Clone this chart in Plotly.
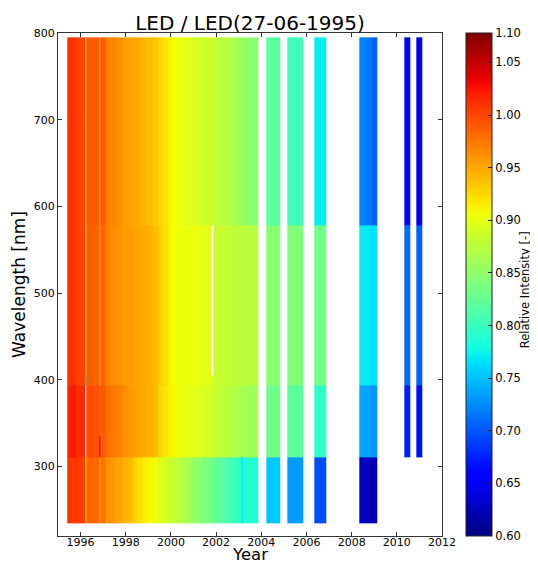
import numpy as np
import plotly.graph_objects as go

# ---- data -------------------------------------------------------------
# wavelength band edges [nm]
band_edges = [235, 311, 335, 394, 405, 578, 795]

# dense early measurements: column edges (years)
dense_edges = [1995.41, 1995.60, 1995.75, 1995.89, 1996.22, 1996.26, 1996.55, 1996.83,
               1996.87, 1997.08, 1997.30, 1997.55, 1997.85, 1998.10, 1998.35, 1998.55,
               1998.72, 1998.95, 1999.20, 1999.45, 1999.65, 1999.88, 2000.10, 2000.35,
               2000.60, 2000.90, 2001.15, 2001.40, 2001.80, 2001.86, 2002.10, 2002.40,
               2002.70, 2002.93, 2003.10, 2003.20, 2003.60, 2003.85]

# relative intensity per band (235-311, 311-394, 394-578, 578-795 nm)
dense_uv = [1.010, 1.006, 1.008, 1.003, 0.912, 0.985, 0.982, 0.940, 0.978, 0.962,
            0.958, 0.952, 0.946, 0.940, 0.926, 0.922, 0.915, 0.910, 0.905, 0.897,
            0.892, 0.882, 0.878, 0.870, 0.865, 0.852, 0.848, 0.838, 0.832, 0.824,
            0.818, 0.808, 0.800, 0.792, 0.772, 0.788, 0.785]
dense_b2 = [1.018, 1.025, 1.014, 1.012, None, 0.997, 0.993, 0.985, 0.990, 0.978,
            0.974, 0.970, 0.963, 0.958, 0.955, 0.950, 0.947, 0.944, 0.940, 0.925,
            0.918, 0.912, 0.908, 0.904, 0.900, 0.897, 0.895, 0.892, 0.888, 0.884,
            0.878, 0.874, 0.870, 0.866, 0.864, 0.862, 0.860]
dense_b3 = [1.012, 1.009, 1.006, 1.001, 0.848, 0.988, 0.986, 0.935, 0.985, 0.968,
            0.963, 0.960, 0.957, 0.955, 0.952, 0.950, 0.948, 0.944, 0.940, 0.928,
            0.922, 0.910, 0.906, 0.905, 0.904, 0.903, 0.902, 0.900, 0.886, 0.884,
            0.882, 0.880, 0.879, 0.878, 0.877, 0.876, 0.875]
dense_b4 = [1.012, 1.009, 1.006, 1.001, 0.848, 0.991, 0.990, 0.935, 0.990, 0.970,
            0.967, 0.963, 0.955, 0.952, 0.949, 0.946, 0.942, 0.939, 0.935, 0.925,
            0.920, 0.910, 0.905, 0.902, 0.898, 0.893, 0.890, 0.886, 0.884, 0.880,
            0.876, 0.872, 0.866, 0.858, 0.855, 0.850, 0.846]

# later campaigns
late_start = [2004.21, 2005.16, 2006.33, 2008.35, 2008.60, 2008.85, 2010.34, 2010.84]
late_end   = [2004.85, 2005.85, 2006.86, 2008.60, 2008.85, 2009.12, 2010.60, 2011.12]
late_uv = [0.754, 0.733, 0.695, 0.627, 0.625, 0.623, None, None]
late_b2 = [0.832, 0.820, 0.794, 0.738, 0.735, 0.730, 0.674, 0.666]
late_b3 = [0.846, 0.842, 0.832, 0.770, 0.768, 0.765, 0.711, 0.704]
late_b4 = [0.820, 0.804, 0.771, 0.720, 0.716, 0.705, 0.655, 0.655]

# single-cell anomalies: (column start year, band row, value)
special = [(1996.22, 3, 0.77), (1996.83, 1, 1.05), (2001.80, 4, None)]

# colour-bar labels
cbar_vals = [0.60, 0.65, 0.70, 0.75, 0.80, 0.85, 0.90, 0.95, 1.00, 1.05, 1.078]
cbar_text = ["0.60", "0.65", "0.70", "0.75", "0.80", "0.85", "0.90", "0.95", "1.00", "1.05", "1.10"]

# ---- build grid -------------------------------------------------------
edges = list(dense_edges)
cols = []
for i in range(len(dense_edges) - 1):
    cols.append([dense_uv[i], dense_b2[i], dense_b2[i], dense_b3[i], dense_b3[i], dense_b4[i]])
for s, e, a, b, c, d in zip(late_start, late_end, late_uv, late_b2, late_b3, late_b4):
    if s > edges[-1] + 1e-9:
        cols.append([None] * 6)
        edges.append(s)
    cols.append([a, b, b, c, c, d])
    edges.append(e)
for yr, row, val in special:
    idx = min(range(len(edges) - 1), key=lambda k: abs(edges[k] - yr))
    cols[idx][row] = val
z = [[cols[c][r] for c in range(len(cols))] for r in range(len(band_edges) - 1)]

# matplotlib 'jet'
def jet(t):
    r = np.interp(t, [0, 0.35, 0.66, 0.89, 1], [0, 0, 1, 1, 0.5])
    g = np.interp(t, [0, 0.125, 0.375, 0.64, 0.91, 1], [0, 0, 1, 1, 0, 0])
    b = np.interp(t, [0, 0.11, 0.34, 0.65, 1], [0.5, 1, 1, 0, 0])
    return "rgb(%d,%d,%d)" % (round(r * 255), round(g * 255), round(b * 255))

ts = np.linspace(0, 1, 101)
jet_scale = [[float(t), jet(t)] for t in ts]

zmin, zmax = 0.6, 1.078
font = "DejaVu Sans"

# the page body has an 8px default margin: the figure starts at (8, 8)
OFF = 8
W, H = 538 - OFF, 565 - OFF
PL, PR, PT, PB = 58, 448, 33, 536          # plot area in window pixels
PW, PH = PR - PL, PB - PT

fig = go.Figure(go.Heatmap(
    x=edges, y=band_edges, z=z,
    colorscale=jet_scale, zmin=zmin, zmax=zmax,
    hoverongaps=False,
    colorbar=dict(
        x=(472 - PL) / PW, xanchor="left", xpad=0, ypad=0,
        y=0.5, yanchor="middle", len=1, lenmode="fraction",
        thickness=26, thicknessmode="pixels",
        outlinewidth=1, outlinecolor="#222",
        ticks="inside", ticklen=4, tickcolor="#222",
        tickvals=cbar_vals, ticktext=cbar_text,
        tickfont=dict(family=font, size=11.5, color="black"),
    ),
))

axis_common = dict(showline=True, linecolor="#333", linewidth=1, mirror="ticks",
                   ticks="inside", ticklen=4, tickcolor="#333", showgrid=False,
                   zeroline=False, automargin=False,
                   tickfont=dict(family=font, size=11, color="black"))

fig.update_xaxes(range=[1995, 2012], tickvals=list(range(1996, 2013, 2)),
                 ticklabelstandoff=-4, **axis_common)
fig.update_yaxes(range=[220, 800], tickvals=list(range(300, 801, 100)),
                 title=dict(text="Wavelength [nm]", font=dict(family=font, size=17, color="black"), standoff=3),
                 **axis_common)

# x-axis title
fig.add_annotation(text="Year", xref="paper", yref="paper", x=0.5, y=-(565 - PB) / PH,
                   xanchor="center", yanchor="bottom", showarrow=False, borderpad=0,
                   font=dict(family=font, size=16.5, color="black"))
# colour-bar title
fig.add_annotation(text="Relative Intensity [-]", xref="paper", yref="paper",
                   x=(532 - PL) / PW, y=0.49, xanchor="center", yanchor="middle",
                   textangle=-90, showarrow=False, borderpad=0,
                   font=dict(family=font, size=11.5, color="black"))

fig.update_layout(
    width=W, height=H,
    margin=dict(l=PL - OFF, r=538 - PR, t=PT - OFF, b=565 - PB),
    paper_bgcolor="white", plot_bgcolor="white",
    title=dict(text="LED / LED(27-06-1995)", xref="paper", x=0.5, xanchor="center",
               yref="container", y=1 - (23 - OFF) / H, yanchor="middle",
               font=dict(family=font, size=20, color="black")),
)

fig.write_html("out.html")
